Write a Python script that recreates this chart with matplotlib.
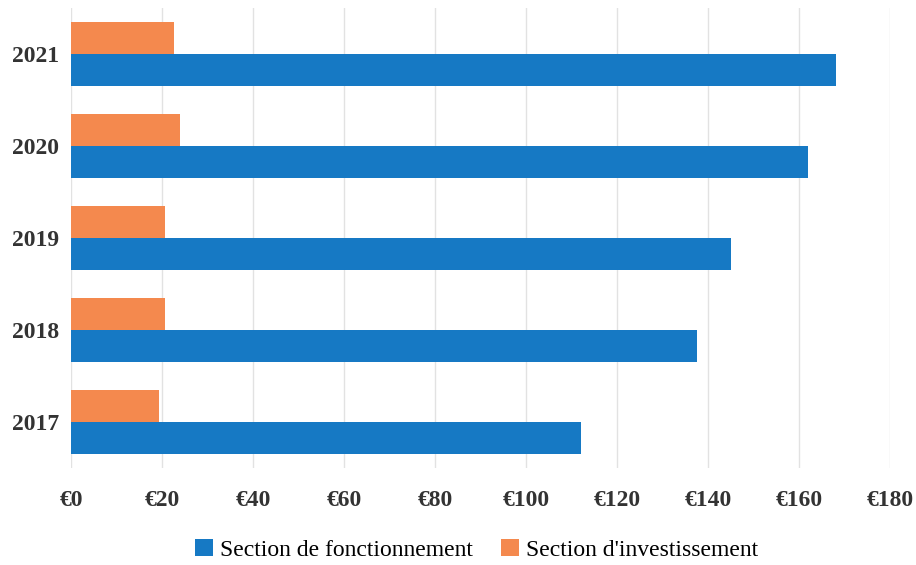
import numpy as np
import matplotlib.pyplot as plt

years = ['2017', '2018', '2019', '2020', '2021']
fonctionnement = [112, 137.5, 145, 162, 168]
investissement = [19.3, 20.6, 20.6, 23.9, 22.6]
xticks = [0, 20, 40, 60, 80, 100, 120, 140, 160, 180]

plt.rcParams['font.family'] = ['Liberation Serif', 'DejaVu Serif']

fig = plt.figure(figsize=(9.16, 5.65), dpi=100)
ax = fig.add_axes([0.078, 0.172, 0.894, 0.814])

y = np.arange(len(years))
h = 0.35
ax.barh(y - h / 2, fonctionnement, height=h, color='#1679C4', label='Section de fonctionnement', zorder=2)
ax.barh(y + h / 2, investissement, height=h, color='#F4894E', label="Section d'investissement", zorder=2)

ax.set_xlim(0, 180)
ax.set_ylim(-0.5, 4.5)
ax.set_xticks(xticks)
ax.set_xticklabels(['€{}'.format(v) for v in xticks], fontsize=17, fontweight='bold', color='#333333')
ax.set_yticks(y)
ax.set_yticklabels(years, fontsize=17, fontweight='bold', color='#333333')
ax.tick_params(axis='y', length=0, pad=9)
ax.tick_params(axis='x', length=0, pad=16)
ax.grid(axis='x', color='#e2e2e2', linewidth=1, zorder=0)
for s in ax.spines.values():
    s.set_visible(False)

fig.legend(loc='center', bbox_to_anchor=(0.52, 0.027), ncol=2, frameon=False,
           fontsize=17, handlelength=0.75, handleheight=0.75, handletextpad=0.3,
           columnspacing=1.2)

fig.savefig('out.png', dpi=100, facecolor='white')
